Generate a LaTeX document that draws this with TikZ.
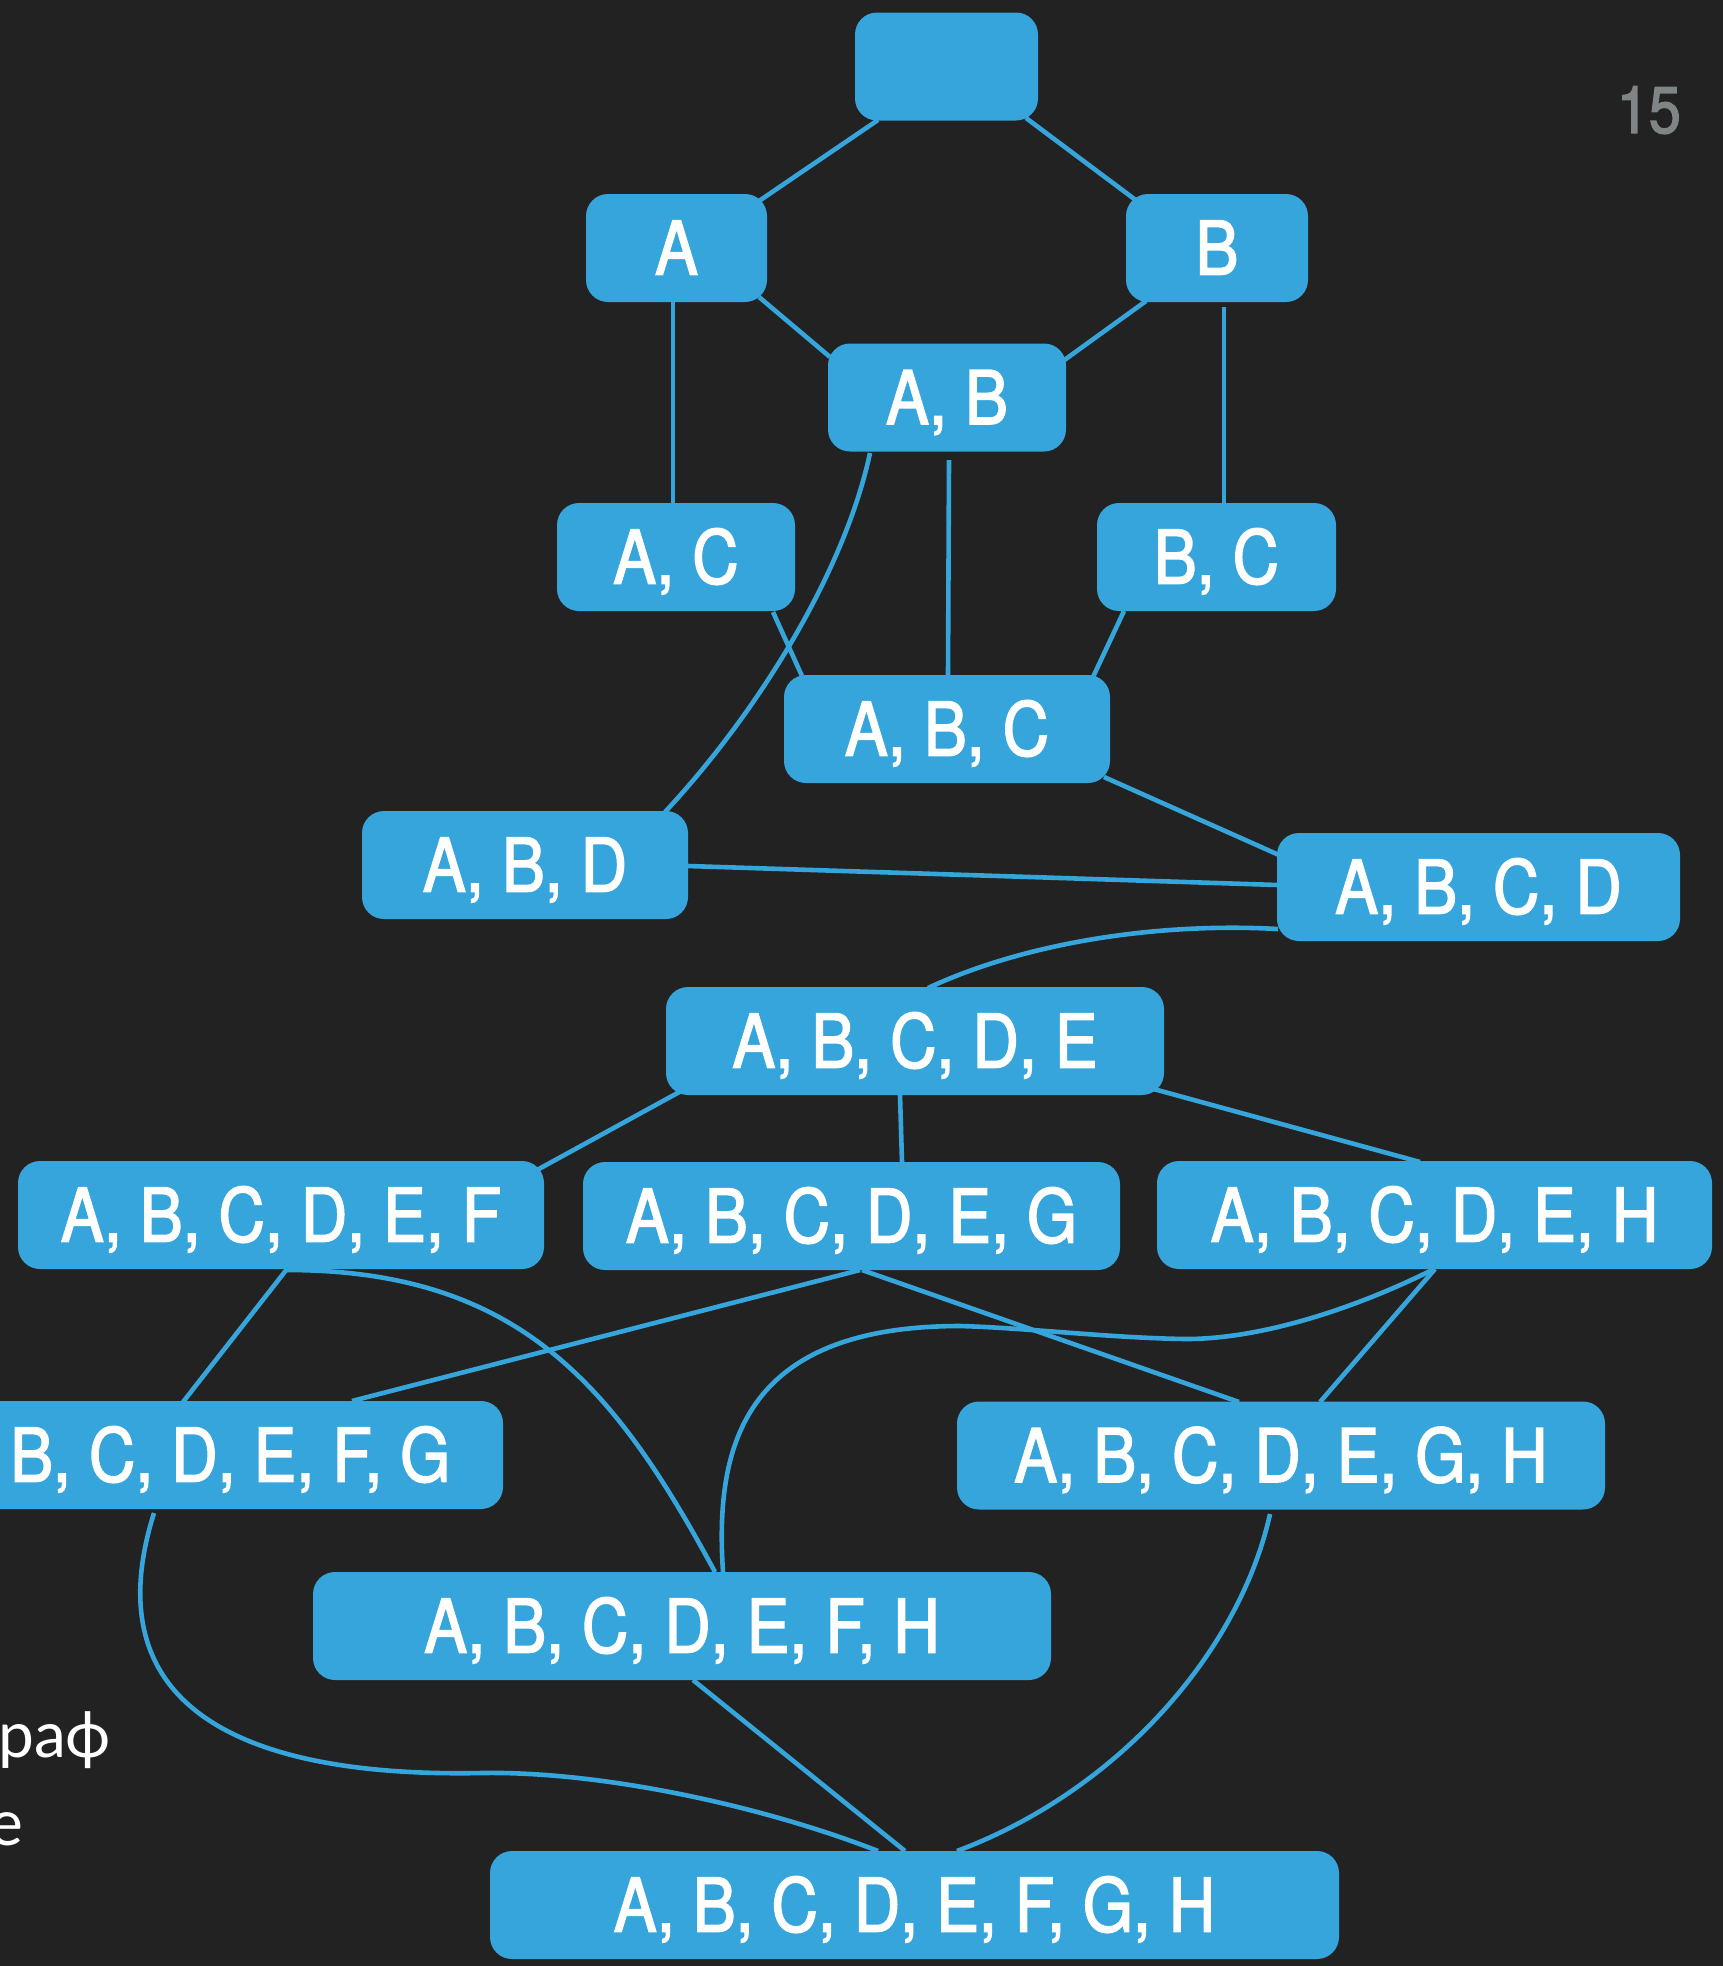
\documentclass[tikz,border=0pt]{standalone}
\usepackage{fontspec}
\newfontfamily\nodefont{TeX Gyre Heros}[FakeStretch=0.87,FakeBold=2]
\newfontfamily\cyrfont{Lato}
\usetikzlibrary{calc}
\definecolor{canvas}{HTML}{222222}
\definecolor{setblue}{HTML}{35A5DB}
\definecolor{pagenum}{HTML}{7F8487}
\pgfdeclarelayer{bglayer}
\pgfdeclarelayer{edges}
\pgfsetlayers{bglayer,edges,main}

\begin{document}
\begin{tikzpicture}[x=1pt,y=-1pt,
  setbox/.style={fill=setblue, rounded corners=22pt, minimum height=108pt,
    inner sep=0pt, text=white, font=\nodefont\fontsize{74}{80}\selectfont,
    text height=53pt, text depth=0pt},
  link/.style={draw=setblue, line width=4.6pt},
  plain/.style={inner sep=0pt, text=white}]

\useasboundingbox (0,0) rectangle (1723,1966);
\begin{pgfonlayer}{bglayer}
  \fill[canvas] (0,0) rectangle (1723,1966);
\end{pgfonlayer}

% lattice of subsets
\node[setbox, minimum width=183pt] (root) at (946.5,66.5) {};
\node[setbox, minimum width=181pt] (A) at (676.5,248) {A};
\node[setbox, minimum width=182pt] (B) at (1217,248) {B};
\node[setbox, minimum width=238pt] (AB) at (947,397.5) {A, B};
\node[setbox, minimum width=238pt] (AC) at (676,557) {A, C};
\node[setbox, minimum width=239pt] (BC) at (1216.5,557) {B, C};
\node[setbox, minimum width=326pt] (ABC) at (947,729) {A, B, C};
\node[setbox, minimum width=326pt] (ABD) at (525,865) {A, B, D};
\node[setbox, minimum width=403pt] (ABCD) at (1478.5,887) {A, B, C, D};
\node[setbox, minimum width=498pt] (ABCDE) at (915,1041) {A, B, C, D, E};
\node[setbox, minimum width=526pt] (ABCDEF) at (281,1215) {A, B, C, D, E, F};
\node[setbox, minimum width=537pt] (ABCDEG) at (851.5,1216) {A, B, C, D, E, G};
\node[setbox, minimum width=555pt] (ABCDEH) at (1434.5,1215) {A, B, C, D, E, H};
\node[setbox, minimum width=563pt] (BCDEFG) at (221.5,1455) {};
\node[setbox, anchor=west, fill=none] (BCDEFGtext) at (10,1455) {B, C, D, E, F, G};
\node[setbox, minimum width=648pt] (ABCDEGH) at (1281,1455.5) {A, B, C, D, E, G, H};
\node[setbox, minimum width=738pt] (ABCDEFH) at (682,1626) {A, B, C, D, E, F, H};
\node[setbox, minimum width=849pt] (ABCDEFGH) at (914.5,1905) {A, B, C, D, E, F, G, H};

% page number and side text
\node[plain, text=pagenum, anchor=base east, font=\nodefont\fontsize{66}{70}\selectfont] (pagenumber) at (1681,133) {15};
\node[plain, anchor=base west, font=\cyrfont\fontsize{64}{70}\selectfont] (sideone) at (-2,1757) {раф};
\node[plain, anchor=base east, font=\cyrfont\fontsize{64}{70}\selectfont] (sidetwo) at (23,1845) {е};

\begin{pgfonlayer}{edges}
  \draw[link] ($(root)+(-68.5,53.5)$) -- ($(A)+(82.5,-47)$);
  \draw[link] ($(root)+(79.5,51.5)$) -- ($(B)+(-80,-47)$);
  \draw[link] ($(A)+(82.5,49)$) -- ($(AB)+(-117,-40.5)$);
  \draw[link] ($(B)+(-71,53)$) -- ($(AB)+(116,-36.5)$);
  \draw[link] ($(A)+(-3.5,54)$) -- ($(AC)+(-3,-54)$);
  \draw[link] ($(B)+(7,59)$) -- ($(BC)+(7.5,-54)$);
  \draw[link] ($(AB)+(2,62.5)$) -- ($(ABC)+(1,-54)$);
  \draw[link] ($(AB)+(-77,55.5)$) .. controls (845,570) and (760,710) .. ($(ABD)+(140,-53)$);
  \draw[link] ($(AC)+(97,55)$) -- ($(ABC)+(-145,-53)$);
  \draw[link] ($(BC)+(-92.5,54)$) -- ($(ABC)+(146,-52)$);
  \draw[link] ($(ABC)+(157,48)$) -- ($(ABCD)+(-199.5,-32)$);
  \draw[link] ($(ABD)+(163,1)$) -- ($(ABCD)+(-200.5,-2)$);
  \draw[link] ($(ABCD)+(-200.5,42)$) .. controls (1150,922) and (1020,945) .. ($(ABCDE)+(13,-53)$);
  \draw[link] ($(ABCDE)+(-232,49)$) -- ($(ABCDEF)+(256,-45)$);
  \draw[link] ($(ABCDE)+(-15,54)$) -- ($(ABCDEG)+(50.5,-54)$);
  \draw[link] ($(ABCDE)+(235,47)$) -- ($(ABCDEH)+(-14.5,-53)$);
  \draw[link] ($(ABCDEF)+(6,54)$) -- ($(BCDEFG)+(-38.5,-53)$);
  \draw[link] ($(ABCDEF)+(6,55)$) .. controls (520,1270) and (615,1387) .. ($(ABCDEFH)+(33,-54)$);
  \draw[link] ($(ABCDEG)+(8.5,54)$) -- ($(BCDEFG)+(130.5,-54)$);
  \draw[link] ($(ABCDEG)+(10.5,54)$) -- ($(ABCDEGH)+(-42,-53.5)$);
  \draw[link] ($(ABCDEH)+(0.5,54)$) -- ($(ABCDEGH)+(39,-53.5)$);
  \draw[link] ($(ABCDEH)+(-2.5,55)$) .. controls (1362,1305) and (1266,1339) .. (1186,1339)
     .. controls (1110,1338) and (1030,1328) .. (960,1326)
     .. controls (740,1326) and (715,1450) .. ($(ABCDEFH)+(41,-54)$);
  \draw[link] ($(ABCDEGH)+(-11,58.5)$) .. controls (1240,1650) and (1120,1790) .. ($(ABCDEFGH)+(42.5,-54)$);
  \draw[link] ($(ABCDEFH)+(11,54)$) -- ($(ABCDEFGH)+(-9.5,-54)$);
  \draw[link] ($(BCDEFG)+(-67.5,58)$) .. controls (95,1700) and (230,1778) .. (482,1773)
     .. controls (600,1771) and (760,1805) .. ($(ABCDEFGH)+(-36.5,-54)$);
\end{pgfonlayer}
\end{tikzpicture}
\end{document}
